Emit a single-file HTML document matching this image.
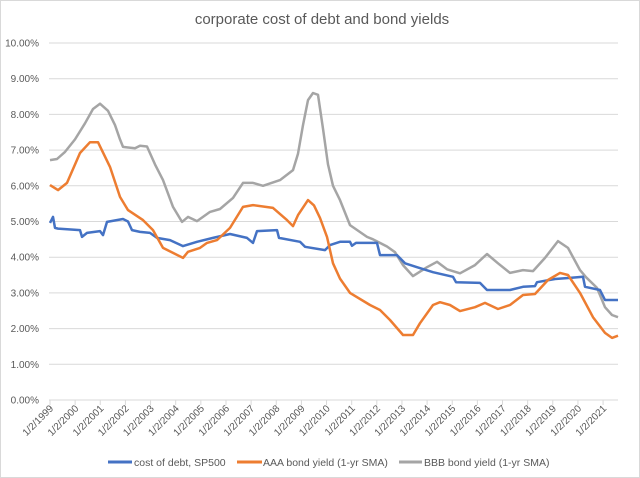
<!DOCTYPE html>
<html><head><meta charset="utf-8"><style>
html,body{margin:0;padding:0;background:#fff;}
svg{display:block;font-family:"Liberation Sans",sans-serif;}
</style></head><body>
<svg id="s" width="640" height="478" viewBox="0 0 640 478" xmlns="http://www.w3.org/2000/svg">
<rect x="0.5" y="0.5" width="639" height="477" fill="#fff" stroke="#d9d9d9"/>
<text x="322" y="24" text-anchor="middle" font-size="15" fill="#595959">corporate cost of debt and bond yields</text>
<g id="grid"></g>
<g id="series"></g>
<g font-size="10.5" fill="#595959">
<line x1="108" y1="462" x2="132" y2="462" stroke="#4472c4" stroke-width="3"/>
<text x="134" y="466">cost of debt, SP500</text>
<line x1="237" y1="462" x2="262" y2="462" stroke="#ed7d31" stroke-width="3"/>
<text x="263" y="466">AAA bond yield (1-yr SMA)</text>
<line x1="399" y1="462" x2="422" y2="462" stroke="#a5a5a5" stroke-width="3"/>
<text x="424" y="466">BBB bond yield (1-yr SMA)</text>
</g>
</svg>
<script>
function Y(v){return 400-35.7*v;}
var g=document.getElementById("grid"),h="";
for(var i=0;i<=10;i++){var y=Y(i);
 if(i>0)h+='<line x1="49" x2="618" y1="'+y+'" y2="'+y+'" stroke="#d9d9d9" stroke-width="1"/>';
 h+='<text x="39" y="'+(y+3.5)+'" text-anchor="end" font-size="10" fill="#595959">'+i+'.00%</text>';}
h+='<line x1="49" x2="618" y1="400" y2="400" stroke="#d9d9d9"/>';
for(var k=0;k<=22;k++){var x=50+25.14*k;
 h+='<line x1="'+x+'" x2="'+x+'" y1="400" y2="405" stroke="#d9d9d9"/>';
 h+='<text transform="translate('+(x+4)+',409) rotate(-45)" text-anchor="end" font-size="10" fill="#595959">1/2/'+(1999+k)+'</text>';}
g.innerHTML=h;
var blue=[[50,4.96],[53,5.13],[55,4.82],[58,4.8],[80,4.76],[82,4.57],[87,4.68],[100,4.73],[103,4.62],[107,4.99],[123,5.07],[128,5.0],[132,4.76],[140,4.71],[150,4.68],[157,4.54],[170,4.48],[183,4.31],[197,4.43],[213,4.54],[230,4.65],[247,4.54],[253,4.4],[257,4.73],[277,4.76],[279,4.54],[300,4.43],[305,4.29],[325,4.2],[330,4.34],[340,4.43],[350,4.43],[352,4.32],[356,4.4],[377,4.4],[380,4.06],[397,4.06],[405,3.83],[417,3.72],[433,3.58],[453,3.45],[456,3.3],[480,3.28],[487,3.08],[510,3.08],[523,3.17],[535,3.19],[537,3.3],[555,3.39],[570,3.42],[583,3.45],[585,3.17],[600,3.08],[605,2.8],[618,2.8]];
var orange=[[50,6.02],[58,5.88],[67,6.08],[80,6.92],[90,7.22],[98,7.22],[110,6.53],[120,5.69],[128,5.32],[143,5.04],[153,4.76],[163,4.26],[173,4.12],[183,3.98],[188,4.15],[200,4.26],[207,4.4],[217,4.48],[230,4.82],[243,5.41],[253,5.46],[273,5.38],[287,5.04],[293,4.87],[298,5.18],[308,5.6],[314,5.45],[320,5.1],[327,4.57],[333,3.83],[340,3.4],[350,3.0],[370,2.66],[380,2.52],[390,2.24],[403,1.82],[413,1.82],[420,2.15],[433,2.66],[440,2.74],[450,2.66],[460,2.49],[475,2.6],[485,2.72],[498,2.55],[510,2.66],[523,2.94],[535,2.97],[548,3.36],[560,3.56],[568,3.5],[580,3.0],[593,2.32],[605,1.88],[612,1.74],[618,1.8]];
var gray=[[50,6.72],[57,6.75],[65,6.95],[75,7.3],[85,7.75],[93,8.15],[100,8.3],[108,8.1],[115,7.7],[120,7.3],[123,7.09],[135,7.05],[140,7.12],[147,7.1],[155,6.6],[163,6.16],[173,5.41],[182,4.99],[188,5.13],[197,5.01],[210,5.27],[220,5.35],[233,5.66],[243,6.08],[253,6.08],[263,6.0],[280,6.16],[293,6.44],[298,6.9],[303,7.7],[308,8.4],[313,8.6],[318,8.55],[323,7.6],[328,6.6],[333,6.0],[340,5.6],[350,4.9],[367,4.57],[373,4.5],[387,4.3],[395,4.14],[403,3.78],[413,3.47],[427,3.72],[437,3.87],[447,3.66],[460,3.55],[475,3.78],[487,4.09],[498,3.83],[510,3.56],[523,3.64],[533,3.61],[545,3.98],[558,4.45],[568,4.26],[580,3.64],[586,3.44],[597,3.14],[605,2.6],[612,2.38],[618,2.32]];
function pl(d,c){return '<polyline fill="none" stroke="'+c+'" stroke-width="2.5" stroke-linejoin="round" points="'+d.map(function(p){return p[0]+','+Y(p[1]).toFixed(1)}).join(' ')+'"/>';}
document.getElementById("series").innerHTML=pl(gray,"#a5a5a5")+pl(blue,"#4472c4")+pl(orange,"#ed7d31");
</script>
</body></html>
